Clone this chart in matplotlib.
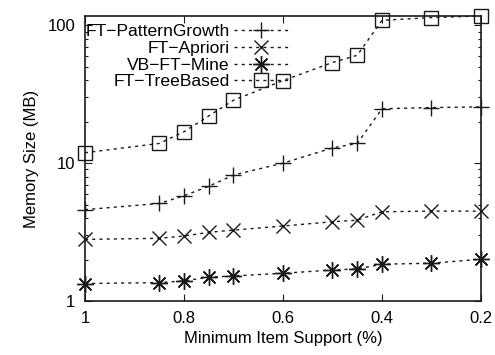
import matplotlib.pyplot as plt
from matplotlib.ticker import FixedLocator, LogLocator, NullFormatter

plt.rcParams['font.family'] = ['Liberation Sans', 'DejaVu Sans']

# Minimum item support (%) and memory usage (MB) per algorithm
support = [1, 0.85, 0.8, 0.75, 0.7, 0.6, 0.5, 0.45, 0.4, 0.3, 0.2]
pattern_growth = [4.6, 5.1, 5.8, 6.8, 8.2, 10.0, 12.9, 13.9, 24.8, 25.3, 25.6]
apriori = [2.80, 2.85, 2.96, 3.15, 3.27, 3.50, 3.76, 3.86, 4.44, 4.49, 4.49]
vb_ft_mine = [1.34, 1.36, 1.40, 1.49, 1.52, 1.59, 1.68, 1.71, 1.85, 1.88, 2.01]
tree_based = [11.9, 13.9, 16.9, 22.0, 28.6, 39.7, 53.7, 60.6, 108.7, 113.7, 116.8]

series = [
    ('FT\u2212PatternGrowth', pattern_growth, '+', 11),
    ('FT\u2212Apriori', apriori, 'x', 10),
    ('VB\u2212FT\u2212Mine', vb_ft_mine, (8, 2, 0), 12),
    ('FT\u2212TreeBased', tree_based, 's', 10.5),
]

fig = plt.figure(figsize=(4.95, 3.55), dpi=100)
ax = fig.add_axes([0.1717, 0.152, 0.80, 0.803])

for label, vals, marker, ms in series:
    ax.plot(support, vals, color='#1a1a1a', linestyle=(0, (2.2, 3)), linewidth=1.0,
            marker=marker, markersize=ms, markerfacecolor='none',
            markeredgecolor='#1a1a1a', markeredgewidth=1.0,
            label=label, clip_on=False, zorder=3)

ax.set_yscale('log')
ax.set_xlim(1, 0.2)
ax.set_ylim(1, 116.8)

ax.xaxis.set_major_locator(FixedLocator([1, 0.8, 0.6, 0.4, 0.2]))
ax.set_xticklabels(['1', '0.8', '0.6', '0.4', '0.2'])
ax.yaxis.set_major_locator(FixedLocator([1, 10, 100]))
ax.set_yticklabels(['1', '10', '100'])
ax.yaxis.set_minor_locator(LogLocator(base=10, subs=range(2, 10)))
ax.yaxis.set_minor_formatter(NullFormatter())

ax.tick_params(which='both', direction='in', top=True, right=True,
               labelsize=12, width=0.8, color='#1a1a1a')
ax.tick_params(which='major', length=5, pad=7)
ax.tick_params(which='minor', length=2.5)
for s in ax.spines.values():
    s.set_linewidth(1.2)
    s.set_color('#1a1a1a')

ax.set_xlabel('Minimum Item Support (%)', fontsize=12, labelpad=4)
ax.set_ylabel('Memory Size (MB)', fontsize=12, labelpad=6)

# markerfirst=False puts the sample on the right and right-aligns the rows
ax.legend(loc='upper left', markerfirst=False, frameon=False, fontsize=12.6,
          handlelength=3.1, handletextpad=0.25, labelspacing=0.08,
          borderaxespad=0.0, borderpad=0.3, bbox_to_anchor=(-0.012, 0.99))

fig.savefig('out.png', dpi=100)
